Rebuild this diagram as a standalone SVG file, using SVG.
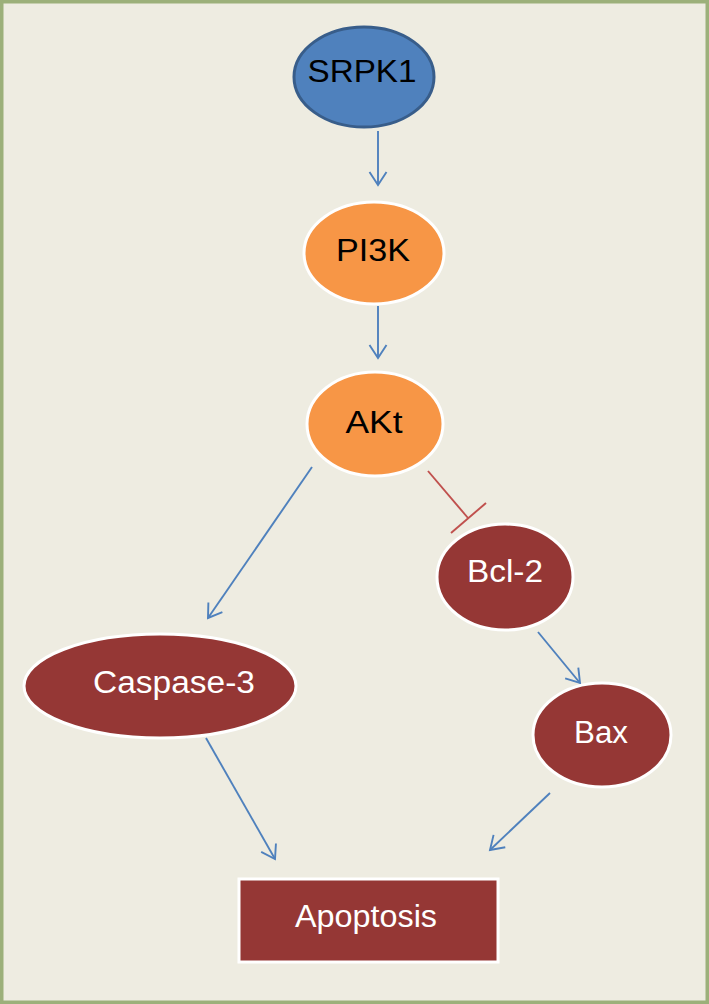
<svg xmlns="http://www.w3.org/2000/svg" width="709" height="1004" viewBox="0 0 709 1004">
<defs>
<marker id="arr" markerUnits="userSpaceOnUse" markerWidth="30" markerHeight="30" viewBox="-15 -15 30 30" refX="0" refY="0" orient="auto">
<path d="M-13,-8.5 L0,0 L-13,8.5" fill="none" stroke="#4F81BD" stroke-width="1.9"/>
</marker>
</defs>
<style>
.lbl{font-family:"Liberation Sans",Arial,sans-serif;font-size:31px;text-anchor:middle}
.blk{fill:#000}
.wht{fill:#fff}
.orange{fill:#F79646;stroke:#fff;stroke-width:3}
.red{fill:#953735;stroke:#fff;stroke-width:3}
.edge{fill:none;stroke:#4F81BD;stroke-width:1.9}
</style>
<rect x="1.75" y="1.75" width="705.5" height="1000.5" fill="#EEECE1" stroke="#9CB07A" stroke-width="3.5"/>
<g id="connectors">
<line class="edge" x1="378" y1="131" x2="378" y2="185" marker-end="url(#arr)"/>
<line class="edge" x1="378" y1="306" x2="378" y2="358" marker-end="url(#arr)"/>
<line class="edge" x1="312" y1="467" x2="208" y2="618" marker-end="url(#arr)"/>
<line class="edge" x1="538" y1="632" x2="580" y2="683" marker-end="url(#arr)"/>
<line class="edge" x1="206" y1="738" x2="275" y2="859" marker-end="url(#arr)"/>
<line class="edge" x1="550" y1="793" x2="490" y2="850" marker-end="url(#arr)"/>
<line x1="428" y1="471" x2="468" y2="518" stroke="#C0504D" stroke-width="1.9"/>
<line x1="451" y1="533" x2="486" y2="503" stroke="#C0504D" stroke-width="1.9"/>
</g>
<g id="srpk1">
<ellipse cx="364" cy="77" rx="70" ry="50" fill="#4F81BD" stroke="#385D8A" stroke-width="3"/>
<text class="lbl blk" x="362" y="82" textLength="109" lengthAdjust="spacingAndGlyphs">SRPK1</text>
</g>
<g id="pi3k">
<ellipse class="orange" cx="374" cy="253" rx="70" ry="51"/>
<text class="lbl blk" x="373" y="261" textLength="74" lengthAdjust="spacingAndGlyphs">PI3K</text>
</g>
<g id="akt">
<ellipse class="orange" cx="375" cy="424" rx="68" ry="52"/>
<text class="lbl blk" x="374" y="433" textLength="57" lengthAdjust="spacingAndGlyphs">AKt</text>
</g>
<g id="bcl2">
<ellipse class="red" cx="505" cy="577" rx="68" ry="53"/>
<text class="lbl wht" x="505" y="582" textLength="76" lengthAdjust="spacingAndGlyphs">Bcl-2</text>
</g>
<g id="caspase3">
<ellipse class="red" cx="160" cy="686" rx="136" ry="52"/>
<text class="lbl wht" x="174" y="693" textLength="162" lengthAdjust="spacingAndGlyphs">Caspase-3</text>
</g>
<g id="bax">
<ellipse class="red" cx="602" cy="735" rx="69" ry="52"/>
<text class="lbl wht" x="601" y="743" textLength="54" lengthAdjust="spacingAndGlyphs">Bax</text>
</g>
<g id="apoptosis">
<rect class="red" x="239" y="879" width="259" height="83"/>
<text class="lbl wht" x="366" y="927" textLength="142" lengthAdjust="spacingAndGlyphs">Apoptosis</text>
</g>
</svg>
